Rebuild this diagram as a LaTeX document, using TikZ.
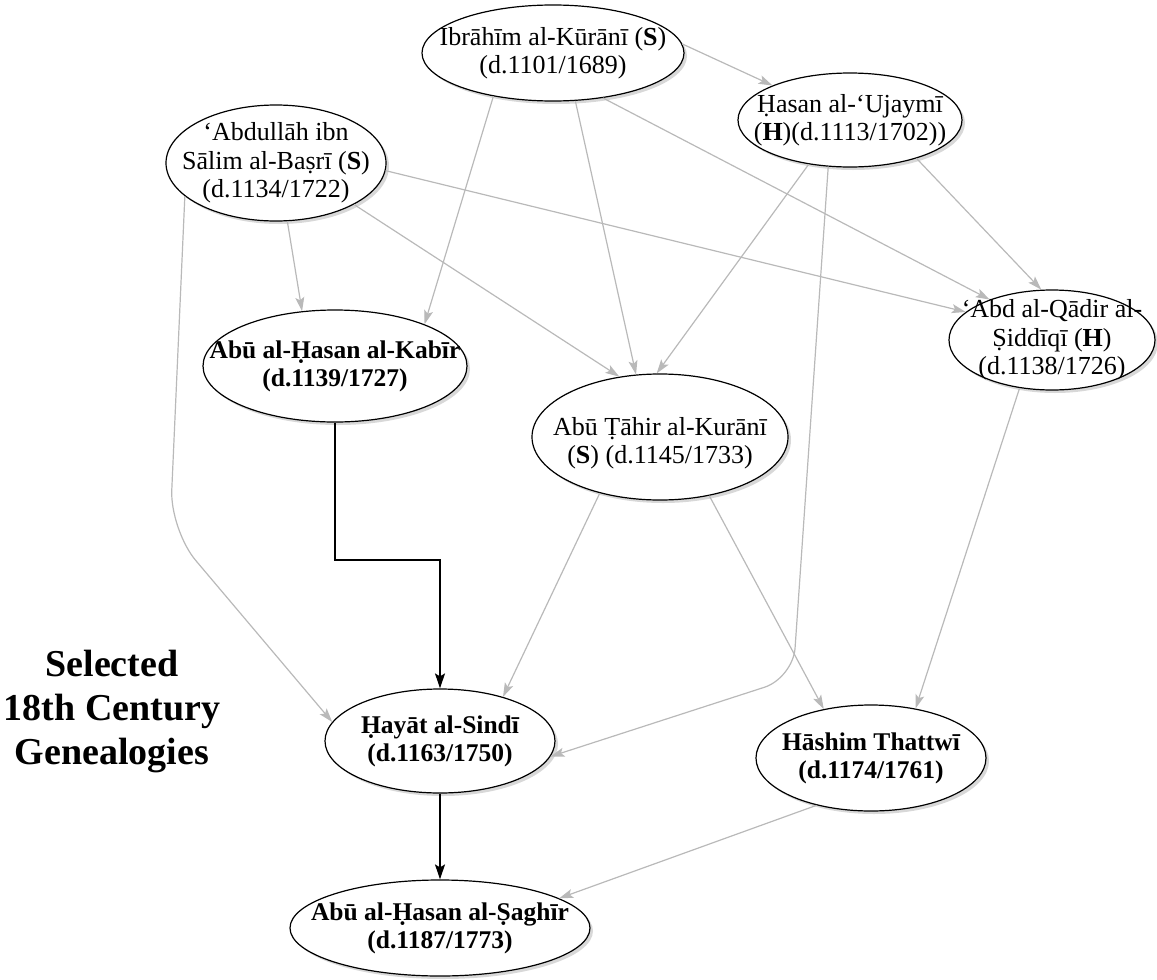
\documentclass[tikz,border=0pt]{standalone}
\usepackage{fontspec}
\setmainfont{Liberation Serif}
\usepackage{tikz}
\usetikzlibrary{arrows.meta,%
                shapes,shadows}

\definecolor{edgegray}{RGB}{185,185,185}

\begin{document}
\begin{tikzpicture}[x=1pt,y=-1pt,
  person/.style={ellipse, draw, line width=1.2pt, fill=white, inner sep=0pt,
    drop shadow={shadow xshift=3pt,shadow yshift=-3pt,fill=black!30}},
  nametext/.style={align=center, font=\fontsize{26}{28.5}\selectfont},
  boldtext/.style={align=center, font=\fontsize{25.5}{28}\selectfont\bfseries},
  kin/.style={draw=edgegray, line width=1.2pt, -{Stealth[length=14pt,width=9pt,inset=3pt]}},
  main/.style={draw=black, line width=1.4pt, -{Stealth[length=15pt,width=10pt,inset=3pt]}}]
\useasboundingbox (0,0) rectangle (1157,980);

\node[person, minimum width=262pt, minimum height=96pt,
  label={[nametext]center:{Ibrāhīm al-Kūrānī (\textbf{S})\\(d.1101/1689)}}] (IK) at (553,53) {};
\node[person, minimum width=224pt, minimum height=94pt,
  label={[nametext]center:{Ḥasan al-‘Ujaymī\\(\textbf{H})(d.1113/1702))}}] (HU) at (850,120) {};
\node[person, minimum width=220pt, minimum height=116pt,
  label={[nametext]center:{‘Abdullāh ibn\\Sālim al-Baṣrī (\textbf{S})\\(d.1134/1722)}}] (AB) at (276,163) {};
\node[person, minimum width=206pt, minimum height=100pt,
  label={[nametext]center:{‘Abd al-Qādir al-\\Ṣiddīqī (\textbf{H})\\(d.1138/1726)}}] (AQ) at (1052,340) {};
\node[person, minimum width=264pt, minimum height=112pt,
  label={[boldtext]center:{Abū al-Ḥasan al-Kabīr\\(d.1139/1727)}}] (AK) at (335,366) {};
\node[person, minimum width=256pt, minimum height=126pt,
  label={[nametext,yshift=-6pt]center:{Abū Ṭāhir al-Kurānī\\(\textbf{S}) (d.1145/1733)}}] (AT) at (660,437) {};
\node[person, minimum width=230pt, minimum height=104pt,
  label={[boldtext]center:{Ḥayāt al-Sindī\\(d.1163/1750)}}] (HS) at (440,741) {};
\node[person, minimum width=230pt, minimum height=106pt,
  label={[boldtext]center:{Hāshim Thattwī\\(d.1174/1761)}}] (HT) at (871,758) {};
\node[person, minimum width=300pt, minimum height=96pt,
  label={[boldtext]center:{Abū al-Ḥasan al-Ṣaghīr\\(d.1187/1773)}}] (AG) at (440,928) {};

\node[align=center, font=\fontsize{38}{44}\selectfont\bfseries] (TT) at (112,712)
  {Selected\\18th Century\\Genealogies};

\coordinate (kink) at (335,560);
\coordinate (bendA) at (170,530);
\coordinate (bendH) at (793,678);

\draw[kin] (IK.4) -- (HU.156);
\draw[kin] (IK.-144) -- (AK.25);
\draw[kin] (IK.-65) -- (AT.111);
\draw[kin] (IK.-42) -- (AQ.147);
\draw[kin] (HU.-133) -- (AT.93);
\draw[kin] (HU.-30) -- (AQ.102);
\draw[kin, rounded corners=30pt] (HU.-115) -- (bendH) -- (HS.-8);
\draw[kin] (AB.-79) -- (AK.121);
\draw[kin] (AB.-28) -- (AT.124);
\draw[kin] (AB.-4) -- (AQ.162);
\draw[kin, rounded corners=40pt] (AB.-160) -- (bendA) -- (HS.170);
\draw[kin] (AT.-137) -- (HS.35);
\draw[kin] (AT.-50) -- (HT.134);
\draw[kin] (AQ.-124) -- (HT.48);
\draw[kin] (HT.-139) -- (AG.14);

\draw[main] (AK.south) -- (kink) -| (HS.north);
\draw[main] (HS.south) -- (AG.north);

\end{tikzpicture}
\end{document}
